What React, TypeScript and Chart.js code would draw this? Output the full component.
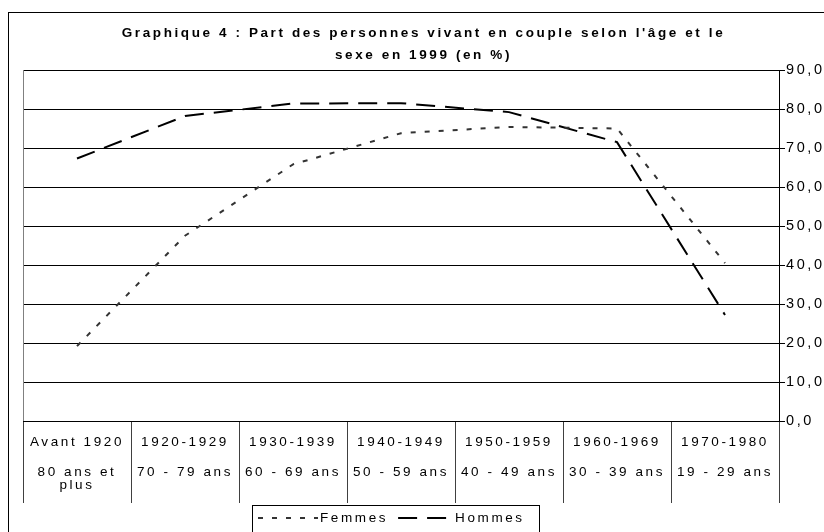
import { useEffect, useRef } from 'react';
import { Chart, registerables } from 'chart.js';

Chart.register(...registerables);

// ---------- data ----------
const TITLE_LINES = [
  "Graphique 4 : Part des personnes vivant en couple selon l'âge et le",
  'sexe en 1999 (en %)',
];
const COHORTS = ['Avant 1920', '1920-1929', '1930-1939', '1940-1949', '1950-1959', '1960-1969', '1970-1980'];
const AGE_GROUPS: (string | string[])[] = [
  ['80 ans et', 'plus'],
  '70 - 79 ans',
  '60 - 69 ans',
  '50 - 59 ans',
  '40 - 49 ans',
  '30 - 39 ans',
  '19 - 29 ans',
];
const FEMMES = [19.2, 47.5, 65.8, 73.8, 75.4, 75.0, 40.5];
const HOMMES = [67.3, 78.2, 81.4, 81.5, 79.2, 71.5, 27.2];
const SERIES_NAMES = ['Femmes', 'Hommes'];
const Y_MIN = 0;
const Y_MAX = 90;
const Y_STEP = 10;

// ---------- style ----------
const FONT = "'Liberation Sans', Arial, Helvetica, sans-serif";
const SPACING = '2.6px';
const FS = 13.5;

const spacingPlugin = {
  id: 'spacing',
  beforeUpdate(chart: any) {
    chart.ctx.letterSpacing = SPACING;
  },
  beforeLayout(chart: any) {
    chart.ctx.letterSpacing = SPACING;
  },
  beforeDraw(chart: any) {
    const ctx = chart.ctx;
    ctx.letterSpacing = SPACING;
    ctx.save();
    ctx.fillStyle = '#ffffff';
    ctx.fillRect(0, 0, chart.width, chart.height);
    ctx.restore();
  },
};

const decorPlugin = {
  id: 'decor',
  beforeDatasetsDraw(chart: any) {
    const { ctx, chartArea } = chart;
    ctx.save();
    ctx.strokeStyle = '#808080';
    ctx.lineWidth = 1;
    ctx.beginPath();
    const x = Math.round(chartArea.left) + 0.5;
    ctx.moveTo(x, chartArea.top);
    ctx.lineTo(x, chartArea.bottom);
    ctx.stroke();
    ctx.restore();
  },
  afterDraw(chart: any) {
    const ctx = chart.ctx;
    ctx.save();
    ctx.letterSpacing = SPACING;
    ctx.strokeStyle = '#000';
    ctx.lineWidth = 1;
    ctx.setLineDash([]);
    // outer frame
    ctx.strokeRect(8.5, 12.5, 900, 900);
    // legend box
    ctx.strokeRect(252.5, 505.5, 287, 60);
    const y = 518;
    let x = 258;
    const sampleW = [60, 55];
    ctx.font = `${FS}px ${FONT}`;
    ctx.textBaseline = 'middle';
    ctx.textAlign = 'left';
    chart.data.datasets.forEach((ds: any, i: number) => {
      ctx.save();
      ctx.strokeStyle = ds.borderColor;
      ctx.lineWidth = ds.borderWidth;
      ctx.setLineDash(ds.borderDash || []);
      ctx.beginPath();
      ctx.moveTo(x, y);
      ctx.lineTo(x + sampleW[i], y);
      ctx.stroke();
      ctx.restore();
      x += sampleW[i] + 2;
      ctx.fillStyle = '#000';
      ctx.fillText(ds.label, x, y);
      x += ctx.measureText(ds.label).width + 10;
    });
    ctx.restore();
  },
};

const tickFont = { family: FONT, size: FS, lineHeight: 1.2 };

export default function App() {
  const ref = useRef<HTMLCanvasElement>(null);
  useEffect(() => {
    if (!ref.current) return;
    const chart = new Chart(ref.current, {
      type: 'line',
      data: {
        labels: COHORTS,
        datasets: [
          {
            label: SERIES_NAMES[0],
            data: FEMMES,
            borderColor: '#333333',
            borderWidth: 2,
            borderDash: [5, 9],
            pointRadius: 0,
            tension: 0,
            fill: false,
            xAxisID: 'x',
            yAxisID: 'y',
          },
          {
            label: SERIES_NAMES[1],
            data: HOMMES,
            borderColor: '#000000',
            borderWidth: 2,
            borderDash: [19, 10],
            pointRadius: 0,
            tension: 0,
            fill: false,
            xAxisID: 'x',
            yAxisID: 'y',
          },
        ],
      },
      options: {
        animation: false,
        responsive: false,
        devicePixelRatio: 1,
        layout: { padding: { left: 23, top: 0, right: 0, bottom: 28 } },
        plugins: {
          legend: { display: false },
          tooltip: { enabled: false },
          title: {
            display: true,
            text: TITLE_LINES,
            color: '#000',
            font: { family: FONT, size: FS, weight: 'bold', lineHeight: '22px' },
            padding: { top: 22, bottom: 4 },
          },
        },
        scales: {
          x: {
            type: 'category',
            position: 'bottom',
            offset: true,
            weight: 0,
            grid: {
              display: true,
              offset: true,
              drawOnChartArea: false,
              drawTicks: true,
              tickLength: 82,
              color: '#404040',
              lineWidth: 1,
            },
            border: { display: true, color: '#000', width: 1 },
            ticks: {
              autoSkip: false,
              maxRotation: 0,
              minRotation: 0,
              padding: -69.1,
              color: '#000',
              font: tickFont,
            },
            afterFit: (s: any) => {
              s.height = 30;
            },
          },
          x2: {
            type: 'category',
            position: 'bottom',
            offset: true,
            weight: 1,
            labels: AGE_GROUPS as any,
            grid: { display: false, drawTicks: false, drawOnChartArea: false },
            border: { display: false },
            ticks: {
              autoSkip: false,
              maxRotation: 0,
              minRotation: 0,
              padding: 14.5,
              color: '#000',
              font: { family: FONT, size: FS, lineHeight: '13px' },
            },
            afterFit: (s: any) => {
              s.height = 53;
            },
          },
          y: {
            type: 'linear',
            position: 'right',
            min: Y_MIN,
            max: Y_MAX,
            grid: { color: '#000', lineWidth: 1, drawTicks: true, tickLength: 6 },
            border: { display: true, color: '#000', width: 1 },
            ticks: {
              stepSize: Y_STEP,
              padding: 1,
              color: '#000',
              font: { family: FONT, size: 14.5, lineHeight: 1.2 },
              callback: (v: any) => Number(v).toFixed(1).replace('.', ','),
            },
            afterFit: (s: any) => {
              s.width = 45;
            },
          },
        },
      } as any,
      plugins: [spacingPlugin, decorPlugin],
    });
    return () => chart.destroy();
  }, []);

  return (
    <div style={{ position: 'absolute', left: 0, top: 0, width: 824, height: 532, background: '#fff' }}>
      <canvas ref={ref} width={824} height={532} style={{ display: 'block' }} />
    </div>
  );
}
